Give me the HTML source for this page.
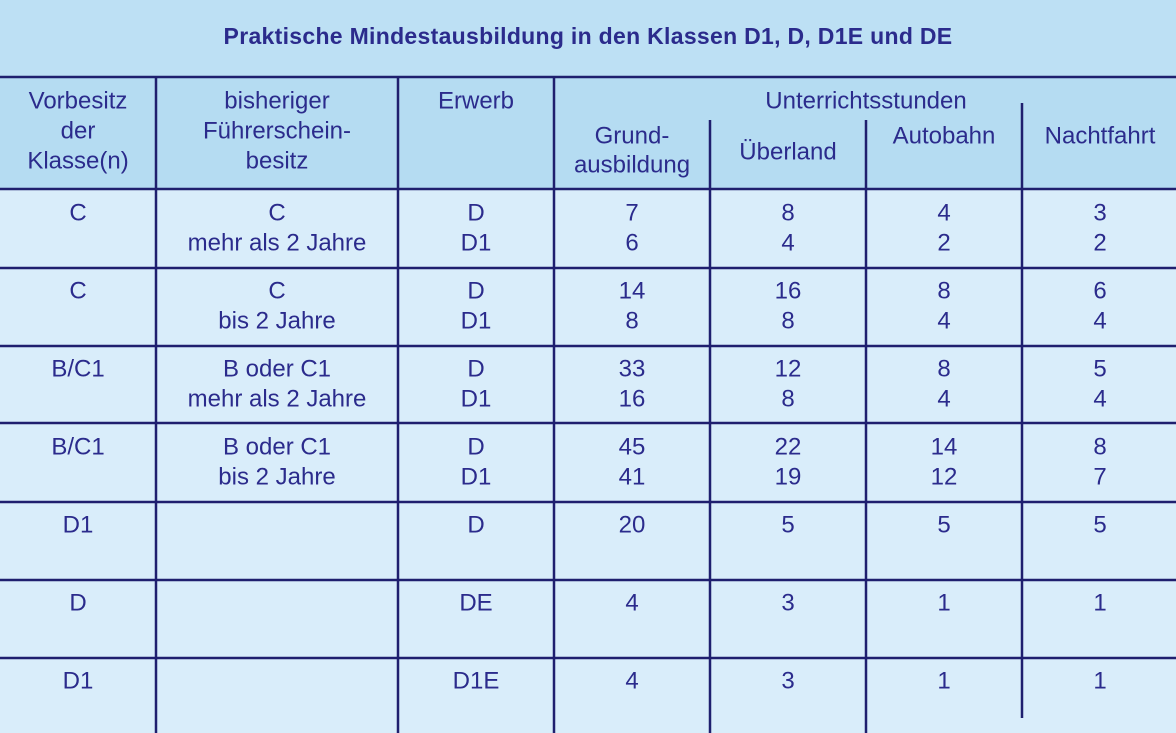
<!DOCTYPE html>
<html><head><meta charset="utf-8"><style>
html,body{margin:0;padding:0;width:1176px;height:733px;overflow:hidden;background:#d9edfa}
svg text{font-family:"Liberation Sans",sans-serif;fill:#2b2b8c;font-size:24px;text-anchor:middle;dominant-baseline:central}
</style></head><body>
<svg width="1176" height="733" xmlns="http://www.w3.org/2000/svg">
<rect x="0" y="0" width="1176" height="77" fill="#bde0f4"/>
<rect x="0" y="77" width="1176" height="112" fill="#b5dcf2"/>
<rect x="0" y="189" width="1176" height="544" fill="#d9edfa"/>
<text x="588" y="36" style="font-weight:bold;font-size:23px;letter-spacing:0.3px">Praktische Mindestausbildung in den Klassen D1, D, D1E und DE</text>
<g stroke="#1f1f6e" stroke-width="2.5">
<line x1="0" y1="77" x2="1176" y2="77"/>
<line x1="0" y1="189" x2="1176" y2="189"/>
<line x1="0" y1="268" x2="1176" y2="268"/>
<line x1="0" y1="346" x2="1176" y2="346"/>
<line x1="0" y1="423" x2="1176" y2="423"/>
<line x1="0" y1="502" x2="1176" y2="502"/>
<line x1="0" y1="580" x2="1176" y2="580"/>
<line x1="0" y1="658" x2="1176" y2="658"/>
<line x1="156" y1="77" x2="156" y2="733"/>
<line x1="398" y1="77" x2="398" y2="733"/>
<line x1="554" y1="77" x2="554" y2="733"/>
<line x1="710" y1="120" x2="710" y2="733"/>
<line x1="866" y1="120" x2="866" y2="733"/>
<line x1="1022" y1="103" x2="1022" y2="718"/>
</g>
<text x="78" y="101">Vorbesitz</text><text x="78" y="131">der</text><text x="78" y="161">Klasse(n)</text>
<text x="277" y="101">bisheriger</text><text x="277" y="131">Führerschein-</text><text x="277" y="161">besitz</text>
<text x="476" y="101">Erwerb</text>
<text x="866" y="101">Unterrichtsstunden</text>
<text x="632" y="136">Grund-</text><text x="632" y="165">ausbildung</text>
<text x="788" y="152">Überland</text>
<text x="944" y="136">Autobahn</text>
<text x="1100" y="136">Nachtfahrt</text>

<text x="78" y="213">C</text><text x="277" y="213">C</text><text x="277" y="243">mehr als 2 Jahre</text>
<text x="476" y="213">D</text><text x="476" y="243">D1</text>
<text x="632" y="213">7</text><text x="632" y="243">6</text>
<text x="788" y="213">8</text><text x="788" y="243">4</text>
<text x="944" y="213">4</text><text x="944" y="243">2</text>
<text x="1100" y="213">3</text><text x="1100" y="243">2</text>

<text x="78" y="291">C</text><text x="277" y="291">C</text><text x="277" y="321">bis 2 Jahre</text>
<text x="476" y="291">D</text><text x="476" y="321">D1</text>
<text x="632" y="291">14</text><text x="632" y="321">8</text>
<text x="788" y="291">16</text><text x="788" y="321">8</text>
<text x="944" y="291">8</text><text x="944" y="321">4</text>
<text x="1100" y="291">6</text><text x="1100" y="321">4</text>

<text x="78" y="369">B/C1</text><text x="277" y="369">B oder C1</text><text x="277" y="399">mehr als 2 Jahre</text>
<text x="476" y="369">D</text><text x="476" y="399">D1</text>
<text x="632" y="369">33</text><text x="632" y="399">16</text>
<text x="788" y="369">12</text><text x="788" y="399">8</text>
<text x="944" y="369">8</text><text x="944" y="399">4</text>
<text x="1100" y="369">5</text><text x="1100" y="399">4</text>

<text x="78" y="447">B/C1</text><text x="277" y="447">B oder C1</text><text x="277" y="477">bis 2 Jahre</text>
<text x="476" y="447">D</text><text x="476" y="477">D1</text>
<text x="632" y="447">45</text><text x="632" y="477">41</text>
<text x="788" y="447">22</text><text x="788" y="477">19</text>
<text x="944" y="447">14</text><text x="944" y="477">12</text>
<text x="1100" y="447">8</text><text x="1100" y="477">7</text>

<text x="78" y="525">D1</text><text x="476" y="525">D</text>
<text x="632" y="525">20</text><text x="788" y="525">5</text><text x="944" y="525">5</text><text x="1100" y="525">5</text>

<text x="78" y="603">D</text><text x="476" y="603">DE</text>
<text x="632" y="603">4</text><text x="788" y="603">3</text><text x="944" y="603">1</text><text x="1100" y="603">1</text>

<text x="78" y="681">D1</text><text x="476" y="681">D1E</text>
<text x="632" y="681">4</text><text x="788" y="681">3</text><text x="944" y="681">1</text><text x="1100" y="681">1</text>
</svg>
</body></html>
